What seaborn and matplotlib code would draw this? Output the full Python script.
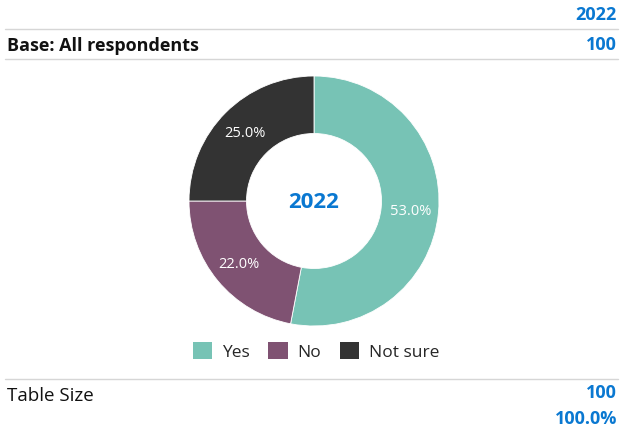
import matplotlib
matplotlib.use('Agg')
import matplotlib.pyplot as plt
import seaborn as sns
from matplotlib.lines import Line2D
from matplotlib.patches import Patch

categories = ['Yes', 'No', 'Not sure']
shares = [53.0, 22.0, 25.0]
colors = ['#77c3b5', '#7f5272', '#333333']
year = '2022'
base_label = 'Base: All respondents'
base_n = '100'
table_size = '100'
table_pct = '100.0%'

sns.set_theme(style='white')
plt.rcParams['font.family'] = ['Open Sans', 'DejaVu Sans']
blue = '#0a78d1'

W, H = 620, 431
fig = plt.figure(figsize=(W / 100, H / 100), dpi=100)

def fx(px):
    return px / W

def fy(py):
    return 1 - py / H

# header / footer rules
for y in [30, 60, 380]:
    fig.add_artist(Line2D([fx(5), fx(618)], [fy(y), fy(y)], color='#d6d6d6', lw=1))

fig.text(fx(617), fy(15), year, color=blue, fontsize=13, fontweight='bold', ha='right', va='center')
fig.text(fx(7), fy(46), base_label, color='#111111', fontsize=13, fontweight='bold', ha='left', va='center')
fig.text(fx(617), fy(45), base_n, color=blue, fontsize=13, fontweight='bold', ha='right', va='center')
fig.text(fx(7), fy(396), 'Table Size', color='#111111', fontsize=13.5, ha='left', va='center')
fig.text(fx(617), fy(393), table_size, color=blue, fontsize=13, fontweight='bold', ha='right', va='center')
fig.text(fx(617), fy(419), table_pct, color=blue, fontsize=13, fontweight='bold', ha='right', va='center')

# donut
cx, cy, r = 314, 202, 125
ax = fig.add_axes([fx(cx - r), fy(cy + r), 2 * r / W, 2 * r / H])
wedges, texts, autotexts = ax.pie(
    shares, colors=colors, startangle=90, counterclock=False, radius=1,
    autopct='%.1f%%', pctdistance=0.78,
    wedgeprops=dict(width=0.46, edgecolor='white', linewidth=0.6),
    textprops=dict(color='white', fontsize=10.5))
ax.set_xlim(-1, 1)
ax.set_ylim(-1, 1)
ax.axis('off')
ax.text(0, 0, year, color=blue, fontsize=16, fontweight='bold', ha='center', va='center')

handles = [Patch(facecolor=c, edgecolor='none') for c in colors]
fig.legend(handles, categories, loc='center', bbox_to_anchor=(fx(316), fy(352)),
           ncol=3, frameon=False, fontsize=12.5, handlelength=1.1, handleheight=1.2,
           handletextpad=0.55, columnspacing=1.1)

fig.savefig('out.png', dpi=100, facecolor='white')
